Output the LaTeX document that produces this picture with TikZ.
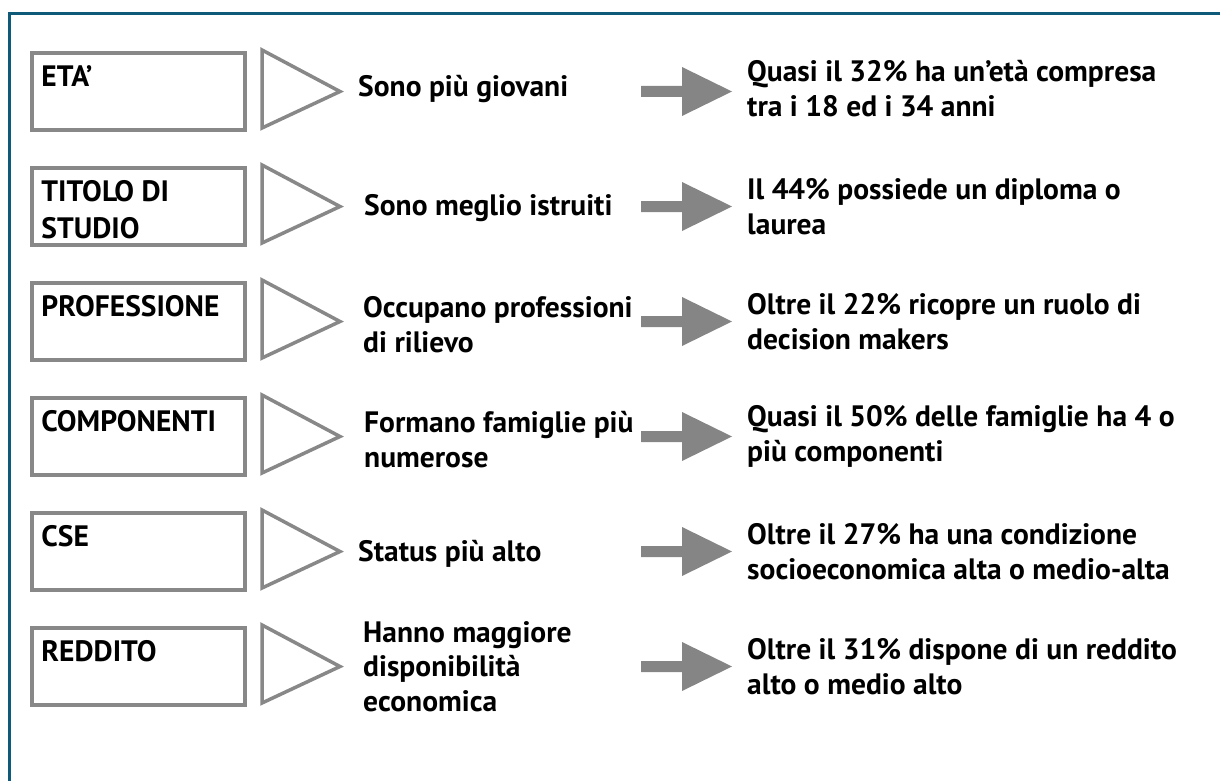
\documentclass[tikz,border=0pt]{standalone}
\usepackage{fontspec}
\setmainfont{PT Sans}
\usetikzlibrary{positioning}

\definecolor{framebl}{HTML}{0F5A78}
\definecolor{boxgray}{HTML}{888888}
\definecolor{arrgray}{HTML}{858585}

\tikzset{
  txt/.style={font=\bfseries\fontsize{29.5}{34.5}\selectfont, inner sep=0pt, align=left, anchor=west},
  label box/.style={draw=boxgray, line width=3.5pt, minimum width=213pt, minimum height=77pt, inner sep=0pt},
  box text/.style={font=\bfseries\fontsize{29.5}{37}\selectfont, inner sep=0pt, align=left, anchor=north west},
  tri/.style={draw=boxgray, line width=3.5pt, line join=miter},
  block arrow/.style={fill=arrgray}
}

\begin{document}
\begin{tikzpicture}[x=1pt, y=-1pt]
		\useasboundingbox (0, 0) rectangle (1220, 781);

		% cornice
		\draw[framebl, line width=3pt] (9, 781) -- (9, 14) -- (1220, 14);

		% righe
		\coordinate (r1) at (0, 91.5);
		\coordinate (r2) at (0, 206.5);
		\coordinate (r3) at (0, 321.5);
		\coordinate (r4) at (0, 436.5);
		\coordinate (r5) at (0, 551.5);
		\coordinate (r6) at (0, 666.5);

		% caselle
		\node[label box] (b1) at ([xshift=138.5pt] r1) {};
		\node[label box] (b2) at ([xshift=138.5pt] r2) {};
		\node[label box] (b3) at ([xshift=138.5pt] r3) {};
		\node[label box] (b4) at ([xshift=138.5pt] r4) {};
		\node[label box] (b5) at ([xshift=138.5pt] r5) {};
		\node[label box] (b6) at ([xshift=138.5pt] r6) {};

		\node[box text] (l1) at ([xshift=11pt, yshift=-14pt] b1.north west) {ETA’};
		\node[box text] (l2) at ([xshift=11pt, yshift=-14pt] b2.north west) {TITOLO DI\\STUDIO};
		\node[box text] (l3) at ([xshift=11pt, yshift=-14pt] b3.north west) {PROFESSIONE};
		\node[box text] (l4) at ([xshift=11pt, yshift=-14pt] b4.north west) {COMPONENTI};
		\node[box text] (l5) at ([xshift=11pt, yshift=-14pt] b5.north west) {CSE};
		\node[box text] (l6) at ([xshift=11pt, yshift=-14pt] b6.north west) {REDDITO};

		% triangoli
		\draw[tri] ([xshift=262pt, yshift=41.5pt] r1) -- ([xshift=340pt] r1) -- ([xshift=262pt, yshift=-36.5pt] r1) -- cycle;
		\draw[tri] ([xshift=262pt, yshift=41.5pt] r2) -- ([xshift=340pt] r2) -- ([xshift=262pt, yshift=-36.5pt] r2) -- cycle;
		\draw[tri] ([xshift=262pt, yshift=41.5pt] r3) -- ([xshift=340pt] r3) -- ([xshift=262pt, yshift=-36.5pt] r3) -- cycle;
		\draw[tri] ([xshift=262pt, yshift=41.5pt] r4) -- ([xshift=340pt] r4) -- ([xshift=262pt, yshift=-36.5pt] r4) -- cycle;
		\draw[tri] ([xshift=262pt, yshift=41.5pt] r5) -- ([xshift=340pt] r5) -- ([xshift=262pt, yshift=-36.5pt] r5) -- cycle;
		\draw[tri] ([xshift=262pt, yshift=41.5pt] r6) -- ([xshift=340pt] r6) -- ([xshift=262pt, yshift=-36.5pt] r6) -- cycle;

		% testi centrali
		\node[txt] (m1) at ([xshift=358pt, yshift=2pt] r1) {Sono più giovani};
		\node[txt] (m2) at ([xshift=364pt, yshift=-2pt] r2) {Sono meglio istruiti};
		\node[txt] (m3) at ([xshift=363pt, yshift=-3pt] r3) {Occupano professioni\\di rilievo};
		\node[txt] (m4) at ([xshift=364pt, yshift=-3pt] r4) {Formano famiglie più\\numerose};
		\node[txt] (m5) at ([xshift=358pt, yshift=-2pt] r5) {Status più alto};
		\node[txt] (m6) at ([xshift=363pt] r6) {Hanno maggiore\\disponibilità\\economica};

		% frecce
		\coordinate (a1) at ([xshift=641pt] r1);
		\coordinate (a2) at ([xshift=641pt] r2);
		\coordinate (a3) at ([xshift=641pt] r3);
		\coordinate (a4) at ([xshift=641pt] r4);
		\coordinate (a5) at ([xshift=641pt] r5);
		\coordinate (a6) at ([xshift=641pt] r6);
		\fill[block arrow] (a1) ++(0, -5.5) -- ++(41, 0) -- ++(0, -19) -- ++(50, 24.5) -- ++(-50, 24.5) -- ++(0, -19) -- ++(-41, 0) -- cycle;
		\fill[block arrow] (a2) ++(0, -5.5) -- ++(41, 0) -- ++(0, -19) -- ++(50, 24.5) -- ++(-50, 24.5) -- ++(0, -19) -- ++(-41, 0) -- cycle;
		\fill[block arrow] (a3) ++(0, -5.5) -- ++(41, 0) -- ++(0, -19) -- ++(50, 24.5) -- ++(-50, 24.5) -- ++(0, -19) -- ++(-41, 0) -- cycle;
		\fill[block arrow] (a4) ++(0, -5.5) -- ++(41, 0) -- ++(0, -19) -- ++(50, 24.5) -- ++(-50, 24.5) -- ++(0, -19) -- ++(-41, 0) -- cycle;
		\fill[block arrow] (a5) ++(0, -5.5) -- ++(41, 0) -- ++(0, -19) -- ++(50, 24.5) -- ++(-50, 24.5) -- ++(0, -19) -- ++(-41, 0) -- cycle;
		\fill[block arrow] (a6) ++(0, -5.5) -- ++(41, 0) -- ++(0, -19) -- ++(50, 24.5) -- ++(-50, 24.5) -- ++(0, -19) -- ++(-41, 0) -- cycle;

		% testi a destra
		\node[txt] (d1) at ([xshift=747pt, yshift=3pt] r1) {Quasi il 32\% ha un’età compresa\\tra i 18 ed i 34 anni};
		\node[txt] (d2) at ([xshift=747pt] r2) {Il 44\% possiede un diploma o\\laurea};
		\node[txt] (d3) at ([xshift=747pt] r3) {Oltre il 22\% ricopre un ruolo di\\decision makers};
		\node[txt] (d4) at ([xshift=747pt] r4) {Quasi il 50\% delle famiglie ha 4 o\\più componenti};
		\node[txt] (d5) at ([xshift=747pt] r5) {Oltre il 27\% ha una condizione\\socioeconomica alta o medio-alta};
		\node[txt] (d6) at ([xshift=747pt] r6) {Oltre il 31\% dispone di un reddito\\alto o medio alto};
	\end{tikzpicture}
\end{document}
